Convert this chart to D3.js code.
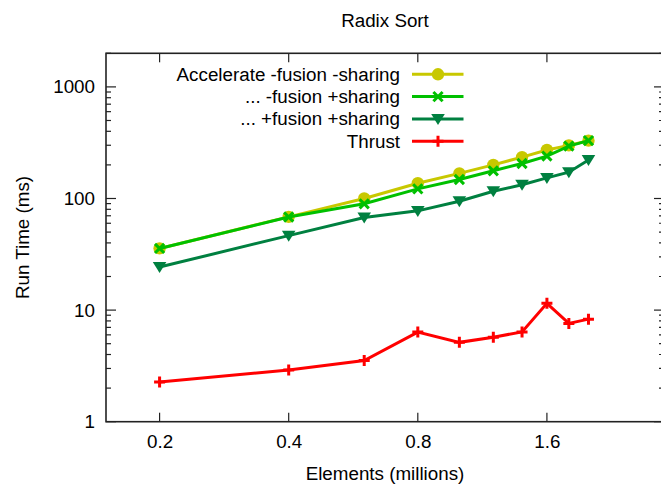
<!DOCTYPE html>
<html><head><meta charset="utf-8">
<script src="https://cdn.jsdelivr.net/npm/d3@7"></script>
<style>
html,body{margin:0;padding:0;background:#fff;}
svg{display:block;font-family:"Liberation Sans",Arial,Helvetica,sans-serif;}
</style></head>
<body>
<svg id="chart" width="661" height="487"></svg>
<script>
const elements = [0.2, 0.4, 0.6, 0.8, 1.0, 1.2, 1.4, 1.6, 1.8, 2.0];
const accNoFusionNoSharing = [35.7, 68.5, 100, 137, 168, 200, 235, 272, 299, 330];
const noFusionSharing = [35.7, 68.3, 89.6, 122, 148, 177, 206, 240, 295, 330];
const fusionSharing = [24.3, 46.5, 67.5, 77.5, 94.6, 116, 133, 153, 172, 221];
const thrust = [2.27, 2.91, 3.53, 6.35, 5.14, 5.72, 6.38, 11.5, 7.6, 8.3];
const seriesNames = ["Accelerate -fusion -sharing", "... -fusion +sharing", "... +fusion +sharing", "Thrust"];
const xTicks = [0.2, 0.4, 0.8, 1.6];
const yTicks = [1, 10, 100, 1000];
const title = "Radix Sort";
const xLabel = "Elements (millions)";
const yLabel = "Run Time (ms)";

const series = [
  {name: seriesNames[0], values: accNoFusionNoSharing, color: "#c8c800", marker: "circle"},
  {name: seriesNames[1], values: noFusionSharing, color: "#00c000", marker: "cross"},
  {name: seriesNames[2], values: fusionSharing, color: "#008040", marker: "tri"},
  {name: seriesNames[3], values: thrust, color: "#ff0000", marker: "plus"}
];

const L = 106, R = 664, T = 53.3, B = 421.7;
const FS = 18.8;
const svg = d3.select("#chart");
const x = d3.scaleLog().domain([0.15, 3.0]).range([L, R]);
const y = d3.scaleLog().domain([1, 2000]).range([B, T]);

// title
svg.append("text").attr("x", (L + R) / 2).attr("y", 26.5).attr("text-anchor", "middle")
  .attr("font-size", FS).attr("fill", "#000").text(title);

// minor y ticks values
const yMinor = [];
for (let d = 1; d <= 1000; d *= 10) for (let k = 2; k <= 9; k++) { const v = d * k; if (v <= 2000) yMinor.push(v); }

const axisColor = "#222";
const g = svg.append("g");

// y axis left
const yAxisL = d3.axisLeft(y).tickValues(yTicks).tickSize(0).tickPadding(11).tickFormat(d3.format("d"));
const gy = g.append("g").attr("transform", `translate(${L},0)`).call(yAxisL);
gy.select(".domain").remove();
gy.selectAll("text").attr("font-size", FS).attr("fill", "#000").attr("font-family", "Liberation Sans, Arial, sans-serif");

// x axis bottom labels
const xAxisB = d3.axisBottom(x).tickValues(xTicks).tickSize(0).tickPadding(13).tickFormat(d3.format(".1f"));
const gx = g.append("g").attr("transform", `translate(0,${B})`).call(xAxisB);
gx.select(".domain").remove();
gx.selectAll("text").attr("font-size", FS).attr("fill", "#000").attr("font-family", "Liberation Sans, Arial, sans-serif");

// tick marks (inward, mirrored)
const tk = g.append("g").attr("stroke", axisColor).attr("stroke-width", 1.2);
yTicks.forEach(v => {
  tk.append("line").attr("x1", L).attr("x2", L + 10).attr("y1", y(v)).attr("y2", y(v));
  tk.append("line").attr("x1", R).attr("x2", R - 10).attr("y1", y(v)).attr("y2", y(v));
});
yMinor.forEach(v => {
  tk.append("line").attr("x1", L).attr("x2", L + 5).attr("y1", y(v)).attr("y2", y(v));
  tk.append("line").attr("x1", R).attr("x2", R - 5).attr("y1", y(v)).attr("y2", y(v));
});
xTicks.forEach(v => {
  tk.append("line").attr("x1", x(v)).attr("x2", x(v)).attr("y1", B).attr("y2", B - 9);
  tk.append("line").attr("x1", x(v)).attr("x2", x(v)).attr("y1", T).attr("y2", T + 9);
});

// frame
g.append("rect").attr("x", L).attr("y", T).attr("width", R - L).attr("height", B - T)
  .attr("fill", "none").attr("stroke", axisColor).attr("stroke-width", 1.6);

// axis labels
svg.append("text").attr("x", (L + R) / 2).attr("y", 480).attr("text-anchor", "middle")
  .attr("font-size", FS).attr("fill", "#000").text(xLabel);
svg.append("text").attr("transform", `translate(29,${(T + B) / 2}) rotate(-90)`).attr("text-anchor", "middle")
  .attr("font-size", FS).attr("fill", "#000").text(yLabel);

function drawMarker(sel, type, cx, cy, color) {
  if (type === "circle") {
    sel.append("circle").attr("cx", cx).attr("cy", cy).attr("r", 6.2).attr("fill", color);
  } else if (type === "cross") {
    const s = 4.6;
    sel.append("path").attr("d", `M${cx - s},${cy - s}L${cx + s},${cy + s}M${cx - s},${cy + s}L${cx + s},${cy - s}`)
      .attr("stroke", color).attr("stroke-width", 3).attr("fill", "none");
  } else if (type === "tri") {
    const w = 6.8, h = 11;
    sel.append("path").attr("d", `M${cx - w},${cy - h * 0.45}L${cx + w},${cy - h * 0.45}L${cx},${cy + h * 0.55}Z`)
      .attr("fill", color);
  } else if (type === "plus") {
    const s = 5.5;
    sel.append("path").attr("d", `M${cx - s},${cy}L${cx + s},${cy}M${cx},${cy - s}L${cx},${cy + s}`)
      .attr("stroke", color).attr("stroke-width", 3).attr("fill", "none");
  }
}

const line = d3.line().x(d => x(d[0])).y(d => y(d[1]));
const plot = svg.append("g");
series.forEach(s => {
  const pts = elements.map((e, i) => [e, s.values[i]]);
  plot.append("path").datum(pts).attr("d", line).attr("fill", "none")
    .attr("stroke", s.color).attr("stroke-width", 3).attr("stroke-linejoin", "miter");
  pts.forEach(p => drawMarker(plot, s.marker, x(p[0]), y(p[1]), s.color));
});

// legend
const lg = svg.append("g");
const rowY = [74.3, 96.6, 118.9, 141.2];
series.forEach((s, i) => {
  const yy = rowY[i];
  lg.append("text").attr("x", 400).attr("y", yy).attr("dy", "0.35em").attr("text-anchor", "end")
    .attr("font-size", FS).attr("fill", "#000").text(s.name);
  lg.append("line").attr("x1", 412).attr("x2", 463.5).attr("y1", yy).attr("y2", yy)
    .attr("stroke", s.color).attr("stroke-width", 3);
  drawMarker(lg, s.marker, 438, yy, s.color);
});
</script>
</body></html>
